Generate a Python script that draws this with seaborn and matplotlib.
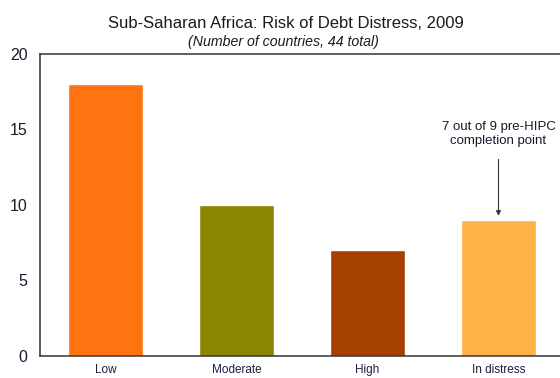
import matplotlib
matplotlib.use("Agg")
import matplotlib.pyplot as plt
import seaborn as sns
import pandas as pd

categories = ["Low", "Moderate", "High", "In distress"]
counts = [18, 10, 7, 9]
colors = ["#FF7410", "#8B8600", "#A54000", "#FFB347"]
yticks = [0, 5, 10, 15, 20]

sns.set_style("white")
plt.rcParams["font.family"] = ["Liberation Sans", "DejaVu Sans"]

df = pd.DataFrame({"category": categories, "count": counts})

fig = plt.figure(figsize=(5.6, 3.78), dpi=100)
ax = fig.add_axes([40/560, 22/378, 524/560, 302/378])
sns.barplot(data=df, x="category", y="count", hue="category", palette=colors,
            width=0.57, legend=False, ax=ax, saturation=1)

ax.set_xlim(-0.5, 3.5)
ax.set_ylim(0, 20)
ax.set_yticks(yticks)
ax.set_yticklabels([str(v) for v in yticks], fontsize=11.5, color="#1a1a2e")
ax.set_xticks([0.5, 1.5, 2.5])
ax.set_xticklabels([])
ax.set_xticks(range(len(categories)), minor=True)
ax.set_xticklabels(categories, minor=True, fontsize=8.5, color="#221b3f")
ax.tick_params(axis="x", which="major", direction="in", length=4, width=1, color="#333333")
ax.tick_params(axis="x", which="minor", length=0, pad=6)
ax.tick_params(axis="y", direction="in", length=4, width=1, color="#333333", pad=9)
ax.set_xlabel("")
ax.set_ylabel("")
for s in ["left", "bottom", "top", "right"]:
    ax.spines[s].set_visible(True)
    ax.spines[s].set_color("#333333")
    ax.spines[s].set_linewidth(1.1)

ax.annotate("", xy=(3, 9.1), xytext=(3, 13.2),
            arrowprops=dict(arrowstyle="-|>", color="#333333", lw=0.8, mutation_scale=7))
ax.text(3, 14.7, "7 out of 9 pre-HIPC\ncompletion point", ha="center", va="center",
        fontsize=9.5, color="#1a1a2e", linespacing=1.2)

fig.text(286/560, 1 - 23/378, "Sub-Saharan Africa: Risk of Debt Distress, 2009",
         ha="center", va="center", fontsize=12, color="#1a1a1a")
fig.text(283/560, 1 - 42/378, "(Number of countries, 44 total)",
         ha="center", va="center", fontsize=10.2, style="italic", color="#1a1a1a")

fig.savefig("out.png", dpi=100)
